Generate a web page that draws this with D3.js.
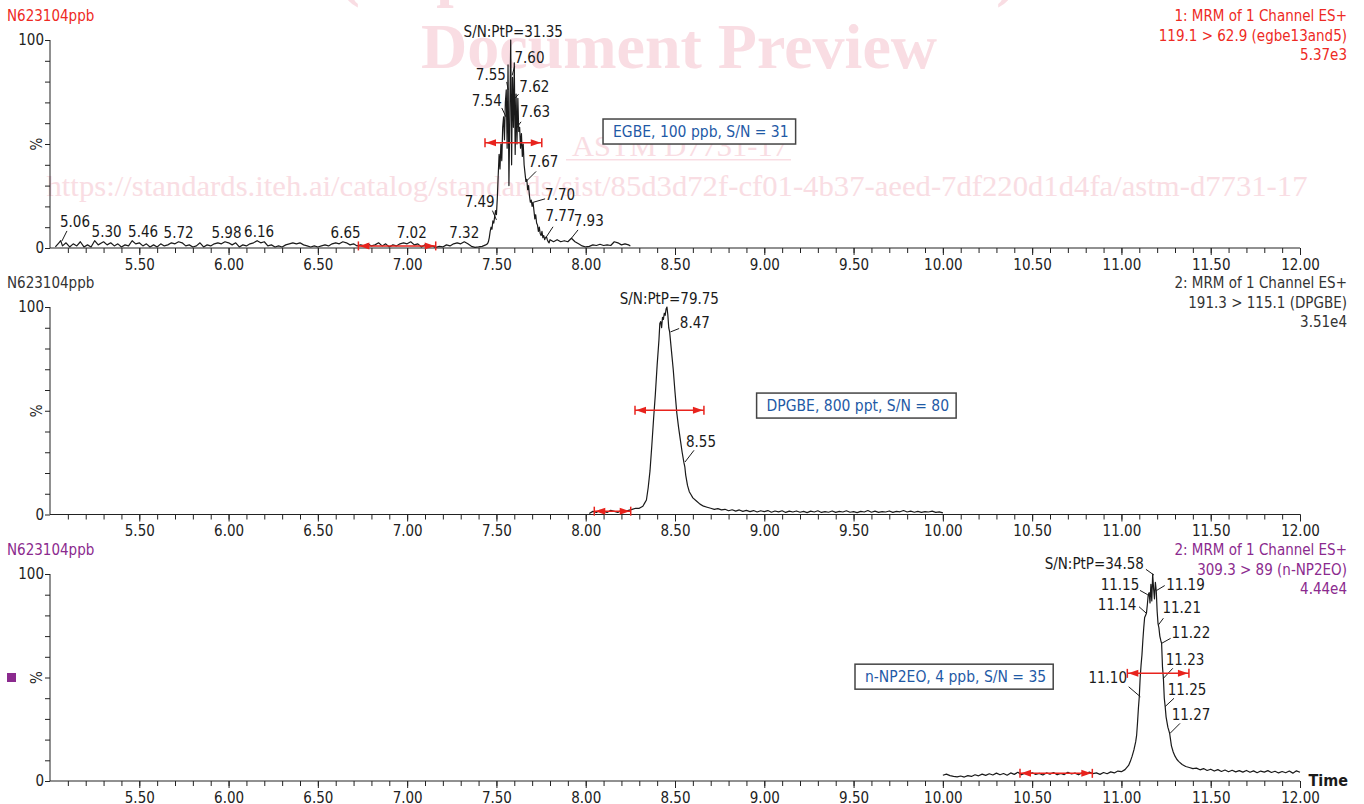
<!DOCTYPE html>
<html>
<head>
<meta charset="utf-8">
<script src="https://cdn.jsdelivr.net/npm/d3@7"></script>
<style>
  body { margin: 0; background: #fff; }
  text { font-family: "DejaVu Sans Condensed", "DejaVu Sans", sans-serif; }
</style>
</head>
<body>
<script>
// --- Data ---
const sampleNames = ["N623104ppb", "N623104ppb", "N623104ppb"];
const channelInfo = [
  ["1: MRM of 1 Channel ES+", "119.1 > 62.9 (egbe13and5)", "5.37e3"],
  ["2: MRM of 1 Channel ES+", "191.3 > 115.1 (DPGBE)", "3.51e4"],
  ["2: MRM of 1 Channel ES+", "309.3 > 89 (n-NP2EO)", "4.44e4"]
];
const xTicks = [5.5, 6, 6.5, 7, 7.5, 8, 8.5, 9, 9.5, 10, 10.5, 11, 11.5, 12];
const boxTexts = ["EGBE, 100 ppb, S/N = 31", "DPGBE, 800 ppt, S/N = 80", "n-NP2EO, 4 ppb, S/N = 35"];

// [time (min), intensity (%)]
const trace1 = [
  [5.03,0.5],[5.05,2.5],[5.06,3.5],[5.07,1],[5.09,2.5],[5.11,0.5],[5.13,2],[5.15,1],[5.17,3],[5.19,0.5],
  [5.21,1.5],[5.23,0.5],[5.25,3.5],[5.27,1.5],[5.29,2.5],[5.30,3],[5.32,1.5],[5.34,2.5],[5.36,1],[5.38,2],
  [5.40,0.5],[5.42,1.5],[5.44,1],[5.46,3.5],[5.48,2],[5.50,2.5],[5.52,1],[5.54,2],[5.56,0.5],[5.58,1.5],
  [5.60,0.5],[5.62,2],[5.64,1],[5.66,1.5],[5.68,2.5],[5.70,2],[5.72,3],[5.74,2.5],[5.76,1],[5.78,1.5],
  [5.80,0.5],[5.82,1],[5.84,2.5],[5.86,0.5],[5.88,1.5],[5.90,1],[5.92,2],[5.94,2.5],[5.96,2],[5.98,3],
  [6.00,2.5],[6.02,1.5],[6.04,2.5],[6.06,0.5],[6.08,1.5],[6.10,1],[6.12,2],[6.14,2.5],[6.16,3.5],[6.18,2.5],
  [6.20,3],[6.22,1],[6.24,1.5],[6.26,0.5],[6.28,1],[6.30,0.5],[6.32,1.5],[6.34,2],[6.36,2.5],[6.38,2],
  [6.40,2.5],[6.42,1.5],[6.44,1],[6.46,0.5],[6.48,1],[6.50,0.5],[6.52,1],[6.54,1.5],[6.56,1],[6.58,2],
  [6.60,2.5],[6.62,2],[6.64,3],[6.66,2.5],[6.68,1.5],[6.70,2],[6.72,1],[6.74,1.5],[6.76,1],[6.78,2],
  [6.80,1],[6.82,1.5],[6.84,2.5],[6.86,1],[6.88,2],[6.90,0.5],[6.92,1.5],[6.94,1],[6.96,2],[6.98,2.5],
  [7.00,2],[7.02,3],[7.04,1.5],[7.06,2],[7.08,0.5],[7.10,1.5],[7.12,0.5],[7.14,1],[7.16,0.3],[7.18,0.8],
  [7.20,0.5],[7.22,1.5],[7.24,1],[7.26,2],[7.28,2.5],[7.30,2],[7.32,3],[7.34,2],[7.36,0.8],[7.38,0.3],
  [7.40,0.5],[7.42,0.8],[7.44,1.5],
  [7.450,2],[7.455,3],[7.460,5],[7.465,8],[7.470,10],[7.475,9],[7.480,13],[7.485,12],[7.490,15],[7.495,18],
  [7.500,16],[7.505,24],[7.510,35],[7.515,45],[7.520,38],[7.525,50],[7.530,42],[7.535,58],[7.540,63],[7.545,52],
  [7.550,70],[7.555,76],[7.560,48],[7.565,88],[7.570,30],[7.575,65],[7.580,100],[7.585,40],[7.590,82],[7.595,58],
  [7.600,89],[7.605,45],[7.610,74],[7.615,50],[7.620,72],[7.625,56],[7.630,58],[7.635,48],[7.640,55],[7.645,44],
  [7.650,50],[7.655,40],[7.660,36],[7.665,32],[7.670,33],[7.675,28],[7.680,30],[7.685,25],[7.690,22],[7.695,23],
  [7.700,20],[7.705,22],[7.710,18],[7.715,14],[7.720,16],[7.725,12],[7.730,11],[7.735,8],[7.740,10],[7.745,7],
  [7.750,6],[7.755,8],[7.760,5],[7.765,6],[7.770,4],[7.775,5],[7.780,5.4],[7.785,4],[7.790,3],[7.795,2.5],
  [7.80,4],[7.82,3],[7.84,4],[7.86,3],[7.88,3.5],[7.90,3],[7.92,4.7],[7.94,3],[7.96,2],[7.98,1],
  [8.00,0.5],[8.02,0.8],[8.04,1.5],[8.06,1.2],[8.08,1.8],[8.10,1.2],[8.12,1.5],[8.14,1.2],[8.16,3],[8.18,2.5],
  [8.20,1.5],[8.22,2],[8.24,1.5],[8.25,1]
];

const trace2 = [
  [8.02,0.5],[8.04,1.5],[8.06,1],[8.08,2],[8.10,1.5],[8.12,1],[8.14,2],[8.16,1.5],[8.18,1],[8.20,2],
  [8.22,1.5],[8.24,2],[8.26,2.5],[8.28,3],[8.30,3],[8.32,4],[8.33,5.5],[8.34,7],[8.35,13],[8.36,21],
  [8.37,33],[8.38,46],[8.39,58],[8.40,72],[8.41,84],[8.415,92],[8.42,93],[8.425,90],[8.43,95],[8.435,94],
  [8.44,97],[8.445,96],[8.45,99],[8.455,100],[8.46,96],[8.465,90],[8.47,88],[8.48,79],[8.49,70],[8.50,59],
  [8.51,49],[8.52,42],[8.53,36],[8.54,30],[8.55,25],[8.555,23],[8.56,19],[8.57,14],[8.58,11],[8.59,9.5],
  [8.60,8],[8.62,6.5],[8.64,5],[8.66,4],[8.68,3.5],[8.70,3],[8.72,2.5],[8.74,2.8],[8.76,2.2],
  [8.78,2.5],[8.80,1.8],[8.82,2.3],[8.84,1.6],[8.86,2.2],[8.88,1.5],[8.90,2.0],[8.92,1.4],[8.94,1.9],[8.96,1.2],
  [8.98,1.8],[9.00,1.4],[9.02,1.9],[9.04,1.1],[9.06,1.7],[9.08,1.3],[9.10,1.8],[9.12,1.0],[9.14,1.6],[9.16,1.2],
  [9.18,1.7],[9.20,1.1],[9.22,1.5],[9.24,0.9],[9.26,1.6],[9.28,1.2],[9.30,1.8],[9.32,1.0],[9.34,1.4],[9.36,1.1],
  [9.38,1.7],[9.40,1.0],[9.42,1.5],[9.44,1.2],[9.46,1.8],[9.48,1.1],[9.50,1.4],[9.52,0.9],[9.54,1.5],[9.56,1.2],
  [9.58,1.9],[9.60,1.1],[9.62,1.6],[9.64,1.0],[9.66,1.4],[9.68,1.2],[9.70,1.7],[9.72,1.0],[9.74,1.5],[9.76,1.3],
  [9.78,1.9],[9.80,1.2],[9.82,1.6],[9.84,1.1],[9.86,1.5],[9.88,1.0],[9.90,1.4],[9.92,1.2],[9.94,1.6],[9.96,1.0],
  [9.98,1.3],[10.00,0.8]
];

const trace3 = [
  [10.00,2.8],[10.02,3.3],[10.04,2.6],[10.06,2.2],[10.08,2.0],[10.10,2.4],[10.12,1.9],[10.14,2.6],[10.16,2.2],[10.18,3.0],
  [10.20,2.5],[10.22,3.3],[10.24,2.7],[10.26,3.5],[10.28,2.9],[10.30,3.8],[10.32,3.0],[10.34,3.6],[10.36,2.8],[10.38,3.9],
  [10.40,3.2],[10.42,4.2],[10.44,3.0],[10.46,3.8],[10.48,3.1],[10.50,4.0],[10.52,3.2],[10.54,3.7],[10.56,2.9],[10.58,3.9],
  [10.60,3.3],[10.62,4.1],[10.64,3.0],[10.66,3.6],[10.68,3.1],[10.70,4.2],[10.72,3.4],[10.74,3.8],[10.76,3.0],[10.78,4.0],
  [10.80,3.3],[10.82,4.3],[10.84,3.6],[10.86,3.9],[10.88,3.2],[10.90,4.1],[10.92,3.5],[10.94,4.4],[10.96,3.9],[10.98,4.8],
  [11.00,4.5],[11.02,5.5],[11.04,7.5],[11.05,9.5],[11.06,12],[11.07,15],[11.08,19],[11.085,22],[11.09,28],[11.095,35],
  [11.10,40.7],[11.105,50],[11.11,56],[11.115,61],[11.12,68],[11.125,74],[11.13,79],[11.135,80],[11.14,81],[11.145,85],
  [11.15,90],[11.155,91],[11.16,86],[11.165,95],[11.17,87],[11.175,100],[11.18,93],[11.185,88],[11.19,96],[11.195,92],
  [11.20,82],[11.205,76],[11.21,74],[11.215,70],[11.22,68],[11.225,66.5],[11.23,55],[11.235,49.6],[11.24,40],[11.245,35.9],
  [11.25,31],[11.26,26],[11.27,23],[11.28,17],[11.29,14],[11.30,12],[11.31,10.5],[11.32,9.5],[11.34,8],[11.36,7],
  [11.38,6.5],[11.40,6],[11.42,6.2],[11.44,5.4],[11.46,6.0],[11.48,5.1],[11.50,5.7],[11.52,4.8],[11.54,5.5],[11.56,4.6],
  [11.58,5.3],[11.60,4.5],[11.62,5.2],[11.64,4.4],[11.66,5.0],[11.68,4.3],[11.70,5.1],[11.72,4.2],[11.74,4.9],[11.76,4.0],
  [11.78,4.8],[11.80,4.3],[11.82,5.0],[11.84,4.1],[11.86,4.7],[11.88,3.9],[11.90,4.6],[11.92,4.0],[11.94,4.8],[11.96,3.8],
  [11.98,4.9],[12.00,4.2]
];

// peak labels: [text, time, intensity of labelled point]
const labels1 = [
  ["5.06",5.067,3.4],["5.30",5.30,3.5],["5.46",5.46,3.5],["5.72",5.72,3],["5.98",5.98,3],["6.16",6.16,3.5],
  ["6.65",6.65,3],["7.02",7.02,3],["7.32",7.32,3],["7.49",7.50,13.5],["7.54",7.554,63],["7.55",7.566,76],
  ["7.60",7.588,83],["7.62",7.604,72],["7.63",7.61,57.5],["7.67",7.666,32],["7.70",7.707,22],["7.77",7.78,5.4],
  ["7.93",7.92,4.7],["S/N:PtP=31.35",7.583,100]
];
const labels2 = [["S/N:PtP=79.75",8.457,100],["8.47",8.475,88],["8.55",8.556,25.3]];
const labels3 = [
  ["S/N:PtP=34.58",11.182,99.5],["11.15",11.147,90],["11.19",11.196,92],["11.14",11.14,81],["11.21",11.207,75.4],
  ["11.22",11.225,66.5],["11.23",11.235,49.6],["11.10",11.106,40.7],["11.25",11.244,35.9],["11.27",11.272,23]
];

// noise and peak-width spans: [start time, end time, intensity]
const noiseSpans = [[6.727,7.16,1],[8.048,8.252,1.6],[10.432,10.837,3.7]];
const widthSpans = [[7.436,7.754,50.6],[8.276,8.662,50.2],[11.033,11.378,52]];

// --- Layout (offsets of label text / leader end from labelled point) ---
const layout1 = [
  ["start",-2,-14,5,-10],["middle",3,-4],["middle",11,-4],["middle",0,-4],["middle",1.5,-4],["middle",2,-4],
  ["middle",1,-4],["middle",1,-4],["middle",0,-4],["end",-1.7,-12.7,-4,-9.3],["end",-4.3,-11.3,-4.3,-9],
  ["end",-2.3,-10,-1.5,-8],["start",2.3,-12.7,2.5,-9],["start",4.3,-6.3,3.5,-4],["start",4,-11,5,-6.6],
  ["start",2.3,-14,10,-10],["start",11.7,-2.4,11.7,-3.4],["start",-1,-15.7,6.6,-10],["start",2.3,-12.3,6.6,-8.3],
  ["middle",2,-3]
];
const layout2 = [["middle",2,-2.7],["start",9.3,-4.4,8.6,-3.4],["start",1,-15,9,-11.7]];
const layout3 = [
  ["end",-10,-5.7,-8,-5.7],["end",-8.4,-5,-7.7,-4.3],["start",9.7,-0.7,8.3,-5],["end",-10,-3.3,-7.4,-6.6],
  ["start",4,-11.7,5,-6.7],["start",10,-5,9,-5],["start",2.4,-13.3,9.4,-10],["end",-13.3,-14,-11.7,-10],
  ["start",2.7,-11.7,9,-8.4],["start",1.7,-13.3,10,-10]
];
const boxPos = [[8.097,56],[8.957,52.5],[9.508,50.4]];

const width = 1364, height = 804;
const fs = 15;
const headerColors = ["#ee2a24", "#333333", "#8b2a8e"];
const panelRows = [[248, 40], [514.5, 307], [781, 574]]; // [y of 0%, y of 100%]
const traces = [trace1, trace2, trace3];
const labelSets = [labels1, labels2, labels3];
const layouts = [layout1, layout2, layout3];

const svg = d3.select("body").append("svg")
  .attr("width", width).attr("height", height);

// --- Watermark ---
const wm = svg.append("g").attr("fill", "#f9dde3");
function mark(txt, cx, by, size, weight, len) {
  wm.append("text").attr("x", cx).attr("y", by).attr("text-anchor", "middle")
    .attr("font-size", size).attr("font-weight", weight)
    .attr("textLength", len).attr("lengthAdjust", "spacingAndGlyphs")
    .style("font-family", "'Liberation Serif', serif")
    .text(txt);
}
mark("(https://standards.iteh.ai)", 678, -6, 63, "bold", 678);
mark("Document Preview", 679, 68, 63, "bold", 516);
mark("ASTM D7731-17", 680, 156, 30, "normal", 216);
wm.append("rect").attr("x", 566).attr("y", 159).attr("width", 225).attr("height", 1.5);
mark("https://standards.iteh.ai/catalog/standards/sist/85d3d72f-cf01-4b37-aeed-7df220d1d4fa/astm-d7731-17",
  677, 196, 30, "normal", 1261);

// --- Scales ---
const x = d3.scaleLinear().domain([5, 12]).range([50, 1300]);
const minorTicks = d3.range(51, 121).map(d => d / 10);

panelRows.forEach((row, i) => {
  const y = d3.scaleLinear().domain([0, 100]).range(row);
  const g = svg.append("g");

  // headers
  g.append("text").attr("x", 7).attr("y", row[1] - 19)
    .attr("font-size", fs).attr("fill", headerColors[i]).text(sampleNames[i]);
  channelInfo[i].forEach((t, k) => {
    g.append("text").attr("x", 1347).attr("y", row[1] - 19 + k * 19.5)
      .attr("text-anchor", "end").attr("font-size", fs)
      .attr("fill", headerColors[i]).text(t);
  });

  // y axis
  const yAxis = g.append("g").attr("transform", "translate(50,0)")
    .call(d3.axisLeft(y).tickValues(d3.range(0, 101, 10)).tickSize(5).tickFormat(""));
  yAxis.select(".domain").attr("d", `M0,${y(0)}V${y(100)}`).attr("stroke", "#222");
  yAxis.selectAll(".tick line").attr("stroke", "#222");
  [0, 100].forEach(v => {
    g.append("text").attr("x", 44).attr("y", y(v)).attr("dy", "0.36em")
      .attr("text-anchor", "end").attr("font-size", fs).attr("fill", "#222").text(v);
  });
  g.append("text").attr("transform", `translate(42,${y(50)}) rotate(-90)`)
    .attr("text-anchor", "middle").attr("font-size", fs).attr("fill", "#222").text("%");

  // x axis: minor ticks every 0.1, labelled every 0.5
  const xg = g.append("g").attr("transform", `translate(0,${y(0)})`);
  xg.call(d3.axisBottom(x).tickValues(minorTicks).tickSize(5).tickFormat(""));
  xg.select(".domain").attr("d", `M${x(5)},0H${x(12)}`).attr("stroke", "#222");
  xg.selectAll(".tick line").attr("stroke", "#222");
  const xg2 = g.append("g").attr("transform", `translate(0,${y(0)})`);
  xg2.call(d3.axisBottom(x).tickValues(xTicks).tickSize(7).tickPadding(4).tickFormat(d3.format(".2f")));
  xg2.select(".domain").remove();
  xg2.selectAll(".tick line").attr("stroke", "#222");
  xg2.selectAll(".tick text").attr("font-size", fs).attr("fill", "#222")
    .style("font-family", "'DejaVu Sans Condensed', 'DejaVu Sans', sans-serif");

  // trace
  const line = d3.line().x(d => x(d[0])).y(d => y(d[1]));
  g.append("path").datum(traces[i]).attr("d", line)
    .attr("fill", "none").attr("stroke", "#1a1a1a").attr("stroke-width", 1.2)
    .attr("stroke-linejoin", "round");

  // peak labels
  labelSets[i].forEach((lab, k) => {
    const [txt, t, v] = lab;
    const [anchor, dx, dy, lx, ly] = layouts[i][k];
    const px = x(t), py = y(v);
    if (lx !== undefined) {
      g.append("line").attr("x1", px).attr("y1", py).attr("x2", px + lx).attr("y2", py + ly)
        .attr("stroke", "#1a1a1a").attr("stroke-width", 1);
    }
    g.append("text").attr("x", px + dx).attr("y", py + dy).attr("text-anchor", anchor)
      .attr("font-size", fs).attr("fill", "#1a1a1a").text(txt);
  });

  // red span markers
  const red = "#e8231d";
  [noiseSpans[i], widthSpans[i]].forEach(s => {
    const x1 = x(s[0]), x2 = x(s[1]), yy = y(s[2]);
    g.append("line").attr("x1", x1).attr("x2", x2).attr("y1", yy).attr("y2", yy)
      .attr("stroke", red).attr("stroke-width", 1.5);
    [x1, x2].forEach(xx => g.append("line").attr("x1", xx).attr("x2", xx)
      .attr("y1", yy - 4.5).attr("y2", yy + 4.5).attr("stroke", red).attr("stroke-width", 1.5));
    g.append("path").attr("fill", red)
      .attr("d", `M${x1 + 1},${yy}L${x1 + 11},${yy - 3.5}L${x1 + 11},${yy + 3.5}Z` +
                 `M${x2 - 1},${yy}L${x2 - 11},${yy - 3.5}L${x2 - 11},${yy + 3.5}Z`);
  });

  // annotation box
  const bx = x(boxPos[i][0]), by = y(boxPos[i][1]);
  const box = g.append("rect").attr("x", bx).attr("y", by - 12.5).attr("height", 25)
    .attr("fill", "#fff").attr("stroke", "#444").attr("stroke-width", 1.5);
  const bt = g.append("text").attr("x", bx + 10).attr("y", by).attr("dy", "0.36em")
    .attr("font-size", fs + 0.5).attr("fill", "#1f5aa6").text(boxTexts[i]);
  box.attr("width", bt.node().getComputedTextLength() + 17);
});

// purple marker on bottom panel
svg.append("rect").attr("x", 7).attr("y", 673).attr("width", 9).attr("height", 9).attr("fill", "#8b2a8e");

svg.append("text").attr("x", 1348).attr("y", 786).attr("text-anchor", "end")
  .attr("font-size", 16).attr("font-weight", "bold").attr("fill", "#1a1a1a").text("Time");
</script>
</body>
</html>
